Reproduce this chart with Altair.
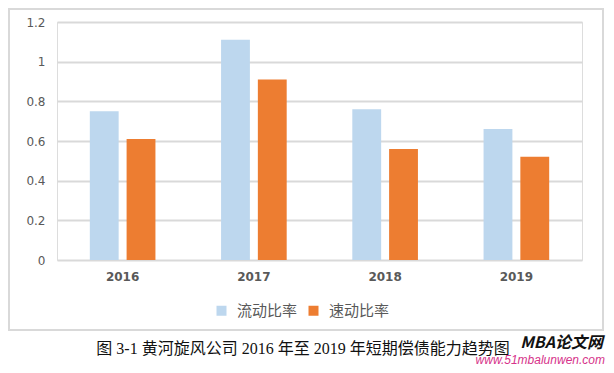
import altair as alt
import pandas as pd

years = ["2016", "2017", "2018", "2019"]
series = ["流动比率", "速动比率"]
current_ratio = [0.75, 1.11, 0.76, 0.66]
quick_ratio = [0.61, 0.91, 0.56, 0.52]
colors = ["#BDD7EE", "#ED7D31"]
y_ticks = [0, 0.2, 0.4, 0.6, 0.8, 1.0, 1.2]
caption = "图 3-1 黄河旋风公司 2016 年至 2019 年短期偿债能力趋势图"

rows = []
for i, y in enumerate(years):
    rows.append({"year": y, "series": series[0], "value": current_ratio[i]})
    rows.append({"year": y, "series": series[1], "value": quick_ratio[i]})
df = pd.DataFrame(rows)

W, H = 525, 238

bars = alt.Chart(df).mark_bar().encode(
    x=alt.X("year:N", sort=years, title=None,
            scale=alt.Scale(paddingInner=0.5, paddingOuter=0.25),
            axis=alt.Axis(labelAngle=0, ticks=False, tickSize=0, domain=False,
                          labelFont="DejaVu Sans", labelFontSize=12, labelFontWeight="bold",
                          labelColor="#595959", labelPadding=11, grid=False)),
    xOffset=alt.XOffset("series:N", sort=series,
                        scale=alt.Scale(paddingInner=0.216, paddingOuter=0)),
    y=alt.Y("value:Q", title=None,
            scale=alt.Scale(domain=[0, 1.2], nice=False),
            axis=alt.Axis(values=y_ticks, format="~g", ticks=False, tickSize=0, domain=False,
                          labelFont="DejaVu Sans", labelFontSize=12, labelColor="#595959",
                          labelPadding=12, gridColor="#D9D9D9", gridWidth=2)),
    color=alt.Color("series:N", sort=series,
                    scale=alt.Scale(domain=series, range=colors),
                    legend=alt.Legend(title=None, orient="none", legendX=157, legendY=281,
                                      direction="horizontal", symbolType="square",
                                      symbolSize=100, symbolStrokeWidth=0,
                                      labelFont="Noto Sans CJK SC", labelFontSize=15,
                                      labelColor="#595959", labelOffset=8, columnPadding=8)),
)

one = pd.DataFrame({"a": [0]})

border = alt.Chart(one).mark_rect(fill=None, stroke="#D9D9D9", strokeWidth=2).encode(
    x=alt.value(-48), x2=alt.value(546), y=alt.value(-13), y2=alt.value(308)
)

cap = alt.Chart(one).mark_text(
    text=caption, font="Liberation Serif, Noto Sans CJK SC", fontSize=16,
    color="#111111", align="center", baseline="middle"
).encode(x=alt.value(246), y=alt.value(327))

wm1 = alt.Chart(one).mark_text(
    text="MBA论文网", font="Noto Sans CJK SC", fontSize=16, fontWeight="bold",
    fontStyle="italic", color="#111111", align="right", baseline="middle"
).encode(x=alt.value(546), y=alt.value(321))

wm2 = alt.Chart(one).mark_text(
    text="www.51mbalunwen.com", font="Liberation Sans", fontSize=12,
    fontStyle="italic", color="#D6338A", align="right", baseline="alphabetic"
).encode(x=alt.value(548), y=alt.value(342))

chart = alt.layer(border, bars, cap, wm1, wm2).properties(
    width=W, height=H,
    autosize=alt.AutoSizeParams(type="none"),
    padding={"left": 49, "top": 14, "right": 24, "bottom": 105},
).configure_view(stroke=None).configure(background="white")

chart.save("out.html", embed_options={"renderer": "svg", "actions": False})
